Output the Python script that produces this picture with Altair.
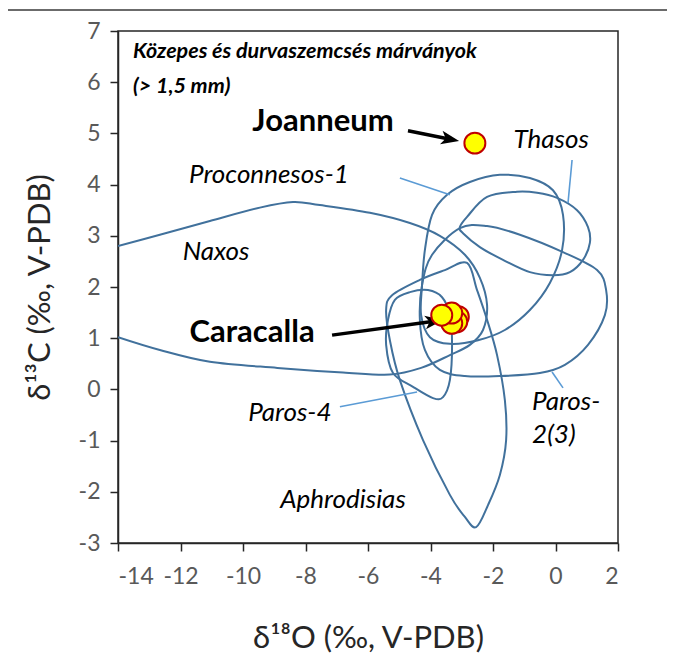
import altair as alt
import pandas as pd

# ---------------- data ----------------
# closed isotope fields (d18O, d13C)
procon_x = [-3.47, -2.74, -1.78, -0.82, -0.08, 0.24, 0.21, -0.18, -0.82, -1.62, -2.48, -3.38, -4.02, -4.30, -4.27, -4.18, -3.95]
procon_y = [3.80, 4.05, 4.19, 4.13, 3.89, 3.41, 2.72, 2.08, 1.55, 1.16, 0.96, 0.89, 1.02, 1.45, 2.04, 2.72, 3.41]

paros2_x = [-3.06, -2.19, -1.14, 0.24, 1.33, 1.62, 1.58, 1.04, 0.30, -0.50, -1.78, -2.90, -3.70, -4.18, -4.34, -4.27, -3.95]
paros2_y = [3.15, 3.19, 3.02, 2.68, 2.33, 1.94, 1.45, 0.87, 0.48, 0.32, 0.26, 0.26, 0.38, 0.77, 1.36, 2.04, 2.63]

thasos_x = [-3.06, -2.83, -2.19, -1.23, -0.59, 0.05, 0.69, 1.04, 1.10, 0.88, 0.46, -0.08, -0.82, -1.68, -2.42, -2.96]
thasos_y = [3.17, 3.37, 3.76, 3.86, 3.84, 3.74, 3.50, 3.17, 2.86, 2.53, 2.29, 2.23, 2.29, 2.53, 2.78, 3.05]

aphro_x = [-2.83, -2.51, -2.19, -1.87, -1.62, -1.58, -1.78, -2.16, -2.54, -2.90, -3.38, -4.24, -4.98, -5.30, -5.42, -5.23, -4.34, -3.54]
aphro_y = [2.47, 1.94, 1.36, 0.67, -0.21, -0.99, -1.67, -2.26, -2.69, -2.49, -2.06, -0.99, 0.18, 0.96, 1.55, 1.84, 2.14, 2.33]

paros4_x = [-5.20, -4.56, -3.92, -3.60, -3.38, -3.31, -3.38, -3.63, -4.08, -4.66, -5.14, -5.36, -5.42]
paros4_y = [0.32, 0.05, -0.17, -0.15, 0.18, 0.87, 1.45, 1.80, 1.94, 1.90, 1.75, 1.36, 0.87]

# open field running off the left edge
naxos_x = [-14.0, -12.66, -11.06, -9.46, -8.40, -7.54, -5.94, -4.66, -3.70, -2.90, -2.42, -2.19, -2.32, -2.74, -3.38, -4.30, -5.30, -6.80, -8.90, -11.06, -12.66, -14.0]
naxos_y = [2.80, 3.02, 3.29, 3.55, 3.66, 3.60, 3.45, 3.25, 3.00, 2.63, 2.18, 1.65, 1.16, 0.87, 0.67, 0.42, 0.29, 0.33, 0.42, 0.54, 0.77, 1.02]

# samples
caracalla_x = [-3.11, -3.16, -3.32, -3.32, -3.64]
caracalla_y = [1.42, 1.32, 1.29, 1.49, 1.45]
joanneum_x = [-2.58]
joanneum_y = [4.81]

# field labels
lab_text = ["Proconnesos-1", "Thasos", "Naxos", "Paros-4", "Aphrodisias"]
lab_x = [-9.17, -0.14, -10.86, -8.50, -6.80]
lab_y = [4.19, 4.87, 2.68, -0.46, -2.16]
lab2_text = ["Paros-", "2(3)"]
lab2_x = [-0.75, -0.75]
lab2_y = [-0.25, -0.89]

bold_text = ["Joanneum", "Caracalla"]
bold_x = [-7.44, -9.71]
bold_y = [5.22, 1.10]

title_text = ["Közepes és durvaszemcsés márványok", "(> 1,5 mm)"]
title_x = [-13.52, -13.52]
title_y = [6.59, 5.91]

# leader lines
lead_x = [-4.98, 0.53, -0.11, -6.90]
lead_y = [4.13, 4.48, 0.34, -0.34]
lead_x2 = [-3.38, 0.40, 0.24, -4.43]
lead_y2 = [3.80, 3.64, 0.03, -0.05]

# arrows
arr_x = [-4.72, -7.15]
arr_y = [5.05, 1.06]
arr_x2 = [-3.37, -3.885]
arr_y2 = [4.885, 1.332]
arr_angle = [11, 352.3]

x_ticks = list(range(-14, 3, 2))
y_ticks = list(range(-3, 8, 1))

# ---------------- tables ----------------
def field(name, xs, ys):
    return pd.DataFrame({"name": name, "x": xs, "y": ys, "o": range(len(xs))})

closed = pd.concat([
    field("Proconnesos-1", procon_x, procon_y),
    field("Paros-2(3)", paros2_x, paros2_y),
    field("Thasos", thasos_x, thasos_y),
    field("Aphrodisias", aphro_x, aphro_y),
    field("Paros-4", paros4_x, paros4_y),
])
naxos = field("Naxos", naxos_x, naxos_y)

FONT = "Lato"
LINE = "#41719C"

xscale = alt.Scale(domain=[-14, 2], nice=False, zero=False)
yscale = alt.Scale(domain=[-3, 7], nice=False, zero=False)
xaxis = alt.Axis(values=x_ticks, title="δ¹⁸O (‰, V-PDB)", titleY=95, titleBaseline="middle",
                 labelExpr="'' + datum.value")
yaxis = alt.Axis(values=y_ticks, title="δ¹³C (‰, V-PDB)", titleX=-78, titleBaseline="middle",
                 labelExpr="'' + datum.value")

def X(f="x"):
    return alt.X(f"{f}:Q", scale=xscale, axis=xaxis)

def Y(f="y"):
    return alt.Y(f"{f}:Q", scale=yscale, axis=yaxis)

closed_layer = alt.Chart(closed).mark_line(
    interpolate="cardinal-closed", color=LINE, strokeWidth=2, clip=True
).encode(x=X(), y=Y(), detail="name:N", order="o:Q")

naxos_layer = alt.Chart(naxos).mark_line(
    interpolate="cardinal", color=LINE, strokeWidth=2, clip=True
).encode(x=X(), y=Y(), order="o:Q")

leaders = alt.Chart(pd.DataFrame({"x": lead_x, "y": lead_y, "x2": lead_x2, "y2": lead_y2})).mark_rule(
    color="#5B9BD5", strokeWidth=1.6
).encode(x=X(), y=Y(), x2="x2:Q", y2="y2:Q")

arrows_df = pd.DataFrame({"x": arr_x, "y": arr_y, "x2": arr_x2, "y2": arr_y2, "a": arr_angle})
arrow_lines = alt.Chart(arrows_df).mark_rule(color="black", strokeWidth=3.5).encode(
    x=X(), y=Y(), x2="x2:Q", y2="y2:Q"
)
arrow_heads = alt.Chart(arrows_df).mark_point(
    shape="M1,0 L-1,-0.75 L-0.5,0 L-1,0.75 Z", filled=True, color="black", size=330, opacity=1
).encode(x=X("x2"), y=Y("y2"), angle=alt.Angle("a:Q", scale=None))

pts = alt.Chart(pd.DataFrame({"x": caracalla_x + joanneum_x, "y": caracalla_y + joanneum_y,
                              "o": list(range(len(caracalla_x) + 1))})).mark_circle(
    size=440, color="#FFFF00", stroke="#C00000", strokeWidth=2, opacity=1
).encode(x=X(), y=Y(), order="o:Q")

labels = alt.Chart(pd.DataFrame({"t": lab_text, "x": lab_x, "y": lab_y})).mark_text(
    font=FONT, fontSize=26, fontStyle="italic", color="black", align="center", baseline="middle"
).encode(x=X(), y=Y(), text="t:N")

labels2 = alt.Chart(pd.DataFrame({"t": lab2_text, "x": lab2_x, "y": lab2_y})).mark_text(
    font=FONT, fontSize=26, fontStyle="italic", color="black", align="left", baseline="middle"
).encode(x=X(), y=Y(), text="t:N")

bold = alt.Chart(pd.DataFrame({"t": bold_text, "x": bold_x, "y": bold_y})).mark_text(
    font=FONT, fontSize=31, fontWeight="bold", color="black", align="center", baseline="middle"
).encode(x=X(), y=Y(), text="t:N")

title = alt.Chart(pd.DataFrame({"t": title_text, "x": title_x, "y": title_y})).mark_text(
    font=FONT, fontSize=21.5, fontStyle="italic", fontWeight="bold", color="black",
    align="left", baseline="middle"
).encode(x=X(), y=Y(), text="t:N")

topline = alt.Chart(pd.DataFrame({"k": [0]})).mark_rule(color="#6b6b6b", strokeWidth=2).encode(
    x=alt.value(-110), x2=alt.value(549), y=alt.value(-21)
)

chart = alt.layer(
    closed_layer, naxos_layer, leaders, arrow_lines, arrow_heads, pts,
    labels, labels2, bold, title, topline
).properties(
    width=500, height=512,
    autosize=alt.AutoSizeParams(type="none"),
    padding={"left": 110, "top": 23, "right": 49, "bottom": 113},
).configure_view(
    stroke="#262626", strokeWidth=1.5
).configure_axis(
    grid=False, domainColor="#262626", domainWidth=1.5, tickColor="#262626", tickWidth=1.5,
    tickSize=8, labelColor="#595959", labelFont=FONT, labelFontSize=23, labelPadding=10,
    titleFont=FONT, titleFontSize=31, titleFontWeight="normal", titleColor="#262626"
).configure_axisX(labelPadding=14)

chart.save("out.html", embed_options={"renderer": "svg", "actions": False})
